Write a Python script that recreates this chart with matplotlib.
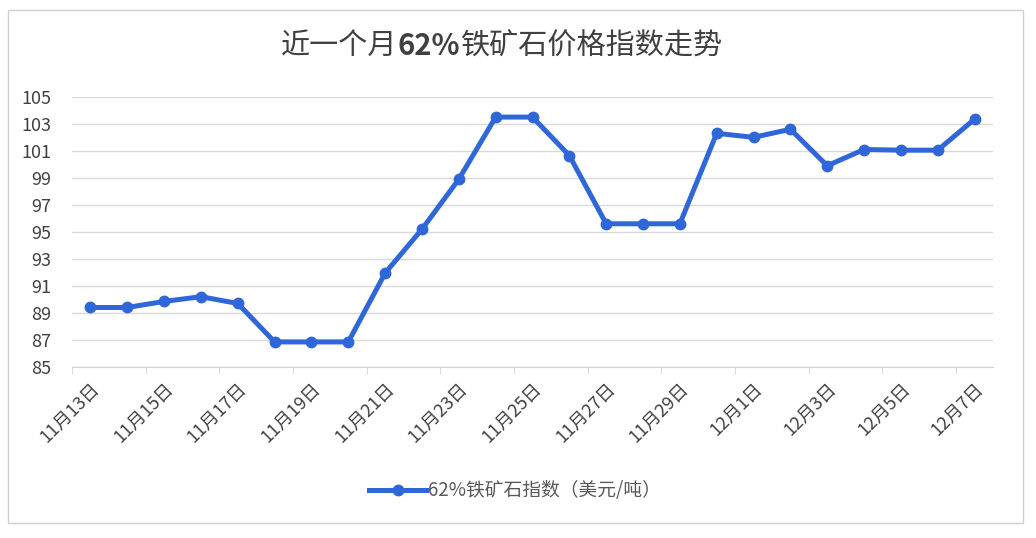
import matplotlib.pyplot as plt
from matplotlib.patches import Rectangle

plt.rcParams['font.family'] = ['Noto Sans CJK SC', 'DejaVu Sans']

# 日期（11月13日 - 12月7日）
dates = ['11月13日', '11月14日', '11月15日', '11月16日', '11月17日', '11月18日',
         '11月19日', '11月20日', '11月21日', '11月22日', '11月23日', '11月24日',
         '11月25日', '11月26日', '11月27日', '11月28日', '11月29日', '11月30日',
         '12月1日', '12月2日', '12月3日', '12月4日', '12月5日', '12月6日', '12月7日']
# 62%铁矿石指数（美元/吨）
index_vals = [89.4, 89.4, 89.85, 90.2, 89.7, 86.85, 86.85, 86.85, 91.95, 95.2,
              98.9, 103.5, 103.5, 100.65, 95.6, 95.6, 95.6, 102.3, 102.0, 102.6,
              99.9, 101.1, 101.05, 101.05, 103.35]
y_ticks = [85, 87, 89, 91, 93, 95, 97, 99, 101, 103, 105]
title_parts = ['近一个月', '62%', '铁矿石价格指数走势']

blue = '#2F66D8'

fig = plt.figure(figsize=(10.36, 5.38), dpi=100)
ax = fig.add_axes([0.0695, 0.318, 0.889, 0.502])

x = list(range(len(dates)))
ax.plot(x, index_vals, color=blue, lw=3.6, marker='o', ms=7.5,
        label='62%铁矿石指数（美元/吨）', solid_joinstyle='round', zorder=3)

ax.set_xlim(-0.5, len(dates) - 0.5)
ax.set_ylim(85, 105)
ax.set_yticks(y_ticks)
ax.grid(axis='y', color='#d9d9d9', lw=1)
ax.set_axisbelow(True)
for s in ['top', 'right', 'left']:
    ax.spines[s].set_visible(False)
ax.spines['bottom'].set_color('#d0d0d0')

# 标签每两天一个，刻度线在分类边界上
ax.set_xticks(x[::2])
ax.set_xticklabels(dates[::2], rotation=45, ha='right', rotation_mode='anchor',
                   fontsize=13, color='#404040')
ax.set_xticks([i - 0.5 for i in range(0, len(dates) + 1, 2)], minor=True)
ax.tick_params(axis='x', which='major', length=0, pad=9)
ax.tick_params(axis='x', which='minor', length=5, color='#d0d0d0')
ax.tick_params(axis='y', length=0, pad=15, labelsize=13, labelcolor='#404040')

# 标题，62% 加粗
fig.canvas.draw()
r = fig.canvas.get_renderer()
pieces = []
for i, p in enumerate(title_parts):
    t = fig.text(0, 0.915, p, ha='left', va='center', fontsize=21, color='#404040',
                 fontweight='bold' if i == 1 else 'normal')
    pieces.append(t)
widths = [t.get_window_extent(r).width for t in pieces]
x0 = 0.484 * fig.bbox.width - sum(widths) / 2
for t, w in zip(pieces, widths):
    t.set_x(x0 / fig.bbox.width)
    x0 += w

fig.legend(loc='center', bbox_to_anchor=(0.497, 0.088), frameon=False,
           fontsize=13.5, handlelength=3.0, handletextpad=0.1,
           labelcolor='#595959')

fig.patches.append(Rectangle((8 / 1036, 1 - 523 / 538), 1015 / 1036, 513 / 538,
                             transform=fig.transFigure, fill=False,
                             edgecolor='#d0d0d0', lw=1))

plt.savefig('out.png', dpi=100)
